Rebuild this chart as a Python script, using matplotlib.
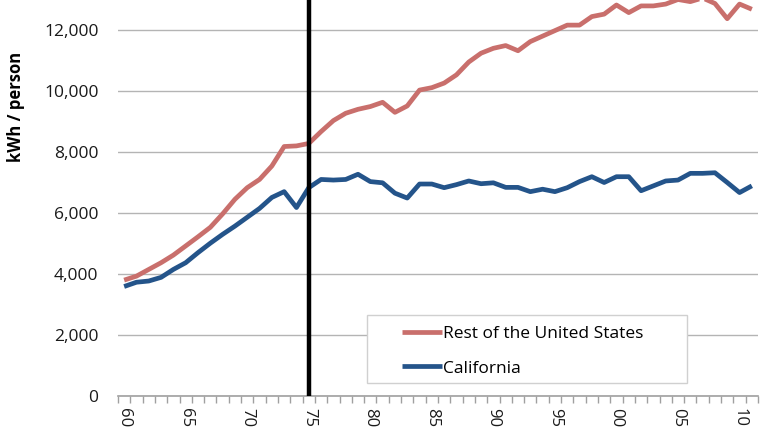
import matplotlib
matplotlib.use("Agg")
import matplotlib.pyplot as plt
from matplotlib.patches import Rectangle
from matplotlib.ticker import FuncFormatter, FixedLocator

# Per-capita electricity use, 1960-2011
years = list(range(1960, 2012))
rest_of_us = [
    3800, 3930, 4150, 4370, 4620, 4920, 5220, 5530, 5970, 6450,
    6830, 7100, 7540, 8180, 8200, 8280, 8670, 9030, 9270, 9400,
    9490, 9630, 9300, 9510, 10030, 10110, 10260, 10530, 10950, 11240,
    11400, 11490, 11320, 11620, 11800, 11980, 12160, 12160, 12440, 12520,
    12820, 12570, 12790, 12790, 12850, 13000, 12930, 13050, 12870, 12370,
    12850, 12680,
]
california = [
    3590, 3730, 3770, 3890, 4150, 4370, 4700, 5010, 5300, 5570,
    5860, 6150, 6510, 6700, 6180, 6830, 7100, 7080, 7100, 7270,
    7030, 6990, 6650, 6490, 6950, 6950, 6830, 6930, 7050, 6960,
    6990, 6840, 6840, 6700, 6780, 6700, 6830, 7030, 7190, 7000,
    7190, 7190, 6730, 6890, 7050, 7080, 7300, 7300, 7320, 7000,
    6670, 6890,
]
policy_year = 1975

red = '#c96f6c'
blue = '#24548a'

plt.rcParams['font.family'] = ['Open Sans', 'DejaVu Sans']

fig = plt.figure(figsize=(7.68, 4.32), dpi=100)
ax = fig.add_axes([118 / 768, 36 / 432, 640 / 768, 427 / 432])

x = list(range(len(years)))
ax.plot(x, rest_of_us, color=red, lw=3.4, label='Rest of the United States',
        solid_capstyle='butt', zorder=3)
ax.plot(x, california, color=blue, lw=3.4, label='California',
        solid_capstyle='butt', zorder=3)

# vertical marker for 1975
ax.axvline(years.index(policy_year), color='black', lw=3.2, zorder=4)

ax.set_xlim(-0.5, len(years) - 0.5)
ax.set_ylim(0, 14000)

# y axis
ax.set_yticks(range(0, 12001, 2000))
ax.yaxis.set_major_formatter(FuncFormatter(lambda v, p: f'{int(v):,}'))
ax.tick_params(axis='y', length=0, pad=14, labelsize=12.5, labelcolor='#1a1a1a')
ax.grid(axis='y', color='#b4b4b4', lw=1.0, zorder=0)
ax.set_axisbelow(True)
ax.set_ylabel('kWh / person', fontsize=12, fontweight='bold')
ax.yaxis.set_label_coords(-(118 - 25) / 640, (396 - 107) / 427)

# x axis: labels every 5 years, tick marks between years
label_idx = [i for i, y in enumerate(years) if y % 5 == 0]
ax.set_xticks(label_idx)
ax.set_xticklabels([f'{years[i] % 100:02d}' for i in label_idx],
                   rotation=-90, fontsize=12, color='#1a1a1a')
ax.tick_params(axis='x', which='major', length=0, pad=9)
ax.xaxis.set_minor_locator(FixedLocator([i - 0.5 for i in range(len(years) + 1)]))
ax.tick_params(axis='x', which='minor', length=5, color='#a0a0a0', width=1)

for side in ['top', 'right', 'left']:
    ax.spines[side].set_visible(False)
ax.spines['bottom'].set_color('#a0a0a0')
ax.spines['bottom'].set_linewidth(1.2)

# legend box (Excel style: wide padding on the sides)
ax.add_patch(Rectangle(((367 - 118) / 640, (396 - 383) / 427), 320 / 640, 68 / 427,
                       transform=ax.transAxes, facecolor='white',
                       edgecolor='#d0d0d0', lw=1.0, zorder=5))
leg = ax.legend(loc='upper left', bbox_to_anchor=((402 - 118) / 640, (396 - 326) / 427),
                fontsize=12.5, frameon=False, handlelength=2.3,
                handletextpad=0.05, borderpad=0, labelspacing=1.05,
                borderaxespad=0)
leg.set_zorder(6)

fig.savefig('out.png', dpi=100)
